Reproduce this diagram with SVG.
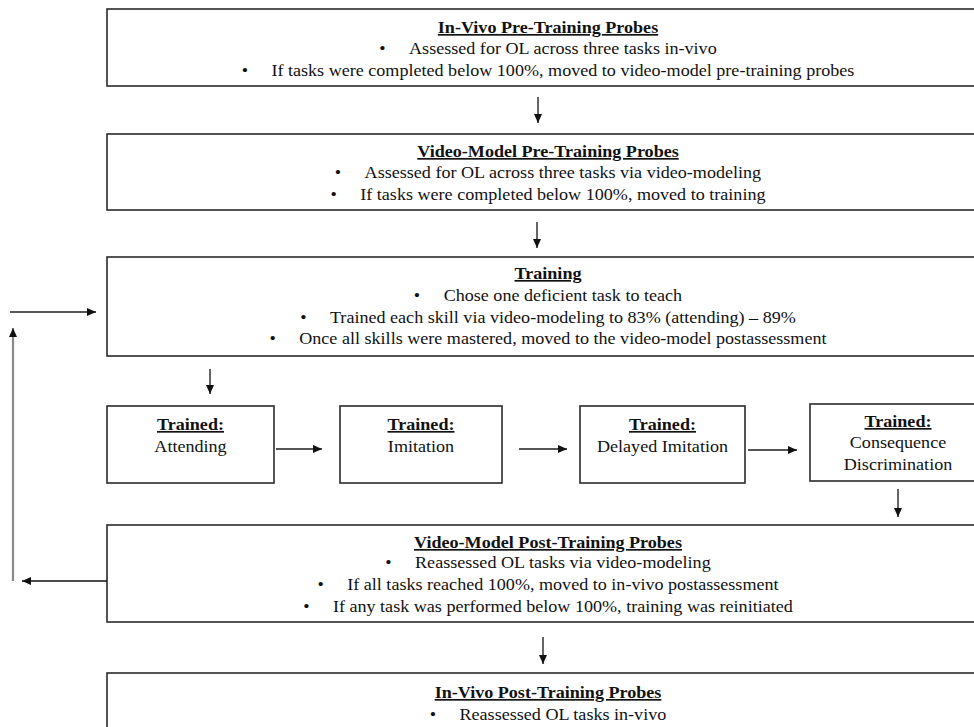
<svg xmlns="http://www.w3.org/2000/svg" width="974" height="727" viewBox="0 0 974 727">
<style>
  .box { fill: #ffffff; stroke: #2a2a2a; stroke-width: 1.6; }
  .t { font-family: "Liberation Serif", "Times New Roman", serif; font-size: 17px; fill: #111; text-anchor: middle; }
  .h { font-weight: bold; text-decoration: underline; }
  .c { fill: none; stroke: #111; stroke-width: 1.3; }
  .cg { fill: none; stroke: #555; stroke-width: 2.2; }
  .cl { fill: none; stroke: #8a8a8a; stroke-width: 2.2; }
</style>
<defs>
  <marker id="ah" markerUnits="userSpaceOnUse" markerWidth="10" markerHeight="10" refX="9" refY="5" orient="auto">
    <path d="M0,1 L9,5 L0,9 Z" fill="#111"/>
  </marker>
</defs>
<rect width="974" height="727" fill="#ffffff"/>

<g id="invivo-pre">
  <rect class="box" x="107" y="9" width="885" height="77"/>
  <text class="t h" transform="translate(548 33) scale(1.064 1)">In-Vivo Pre-Training Probes</text>
  <text class="t" transform="translate(548 54) scale(1.064 1)">•<tspan dx="22">Assessed for OL across three tasks in-vivo</tspan></text>
  <text class="t" transform="translate(548 76) scale(1.064 1)">•<tspan dx="22">If tasks were completed below 100%, moved to video-model pre-training probes</tspan></text>
</g>

<g id="video-pre">
  <rect class="box" x="107" y="134" width="885" height="76"/>
  <text class="t h" transform="translate(548 157) scale(1.064 1)">Video-Model Pre-Training Probes</text>
  <text class="t" transform="translate(548 178) scale(1.064 1)">•<tspan dx="22">Assessed for OL across three tasks via video-modeling</tspan></text>
  <text class="t" transform="translate(548 200) scale(1.064 1)">•<tspan dx="22">If tasks were completed below 100%, moved to training</tspan></text>
</g>

<g id="training">
  <rect class="box" x="107" y="257" width="885" height="99"/>
  <text class="t h" transform="translate(548 279) scale(1.064 1)">Training</text>
  <text class="t" transform="translate(548 301) scale(1.064 1)">•<tspan dx="22">Chose one deficient task to teach</tspan></text>
  <text class="t" transform="translate(548 323) scale(1.064 1)">•<tspan dx="22">Trained each skill via video-modeling to 83% (attending) – 89%</tspan></text>
  <text class="t" transform="translate(548 344) scale(1.064 1)">•<tspan dx="22">Once all skills were mastered, moved to the video-model postassessment</tspan></text>
</g>

<g id="attending">
  <rect class="box" x="107" y="406" width="167" height="77"/>
  <text class="t h" transform="translate(190.5 430) scale(1.064 1)">Trained:</text>
  <text class="t" transform="translate(190.5 452) scale(1.064 1)">Attending</text>
</g>

<g id="imitation">
  <rect class="box" x="340" y="406" width="162" height="77"/>
  <text class="t h" transform="translate(421 430) scale(1.064 1)">Trained:</text>
  <text class="t" transform="translate(421 452) scale(1.064 1)">Imitation</text>
</g>

<g id="delayed">
  <rect class="box" x="580" y="406" width="165" height="77"/>
  <text class="t h" transform="translate(662.5 430) scale(1.064 1)">Trained:</text>
  <text class="t" transform="translate(662.5 452) scale(1.064 1)">Delayed Imitation</text>
</g>

<g id="consequence">
  <rect class="box" x="810" y="404" width="178" height="77"/>
  <text class="t h" transform="translate(898 427) scale(1.064 1)">Trained:</text>
  <text class="t" transform="translate(898 448) scale(1.064 1)">Consequence</text>
  <text class="t" transform="translate(898 470) scale(1.064 1)">Discrimination</text>
</g>

<g id="video-post">
  <rect class="box" x="107" y="525" width="885" height="97"/>
  <text class="t h" transform="translate(548 548) scale(1.064 1)">Video-Model Post-Training Probes</text>
  <text class="t" transform="translate(548 568) scale(1.064 1)">•<tspan dx="22">Reassessed OL tasks via video-modeling</tspan></text>
  <text class="t" transform="translate(548 590) scale(1.064 1)">•<tspan dx="22">If all tasks reached 100%, moved to in-vivo postassessment</tspan></text>
  <text class="t" transform="translate(548 612) scale(1.064 1)">•<tspan dx="22">If any task was performed below 100%, training was reinitiated</tspan></text>
</g>

<g id="invivo-post">
  <rect class="box" x="107" y="673" width="885" height="80"/>
  <text class="t h" transform="translate(548 698) scale(1.064 1)">In-Vivo Post-Training Probes</text>
  <text class="t" transform="translate(548 720) scale(1.064 1)">•<tspan dx="22">Reassessed OL tasks in-vivo</tspan></text>
</g>

<g id="connectors">
  <line class="c" x1="538" y1="97" x2="538" y2="123" marker-end="url(#ah)"/>
  <line class="c" x1="537" y1="222" x2="537" y2="248" marker-end="url(#ah)"/>
  <line class="c" x1="210" y1="369" x2="210" y2="394" marker-end="url(#ah)"/>
  <line class="cg" x1="276" y1="449" x2="322" y2="449" marker-end="url(#ah)"/>
  <line class="cg" x1="519" y1="449" x2="567" y2="449" marker-end="url(#ah)"/>
  <line class="cg" x1="748" y1="450" x2="797" y2="450" marker-end="url(#ah)"/>
  <line class="c" x1="898" y1="489" x2="898" y2="517" marker-end="url(#ah)"/>
  <line class="c" x1="543" y1="637" x2="543" y2="664" marker-end="url(#ah)"/>
  <line class="c" x1="107" y1="581" x2="22" y2="581" marker-end="url(#ah)"/>
  <line class="cl" x1="13" y1="581" x2="13" y2="328" marker-end="url(#ah)"/>
  <line class="cg" x1="10" y1="312" x2="96" y2="312" marker-end="url(#ah)"/>
</g>
</svg>
